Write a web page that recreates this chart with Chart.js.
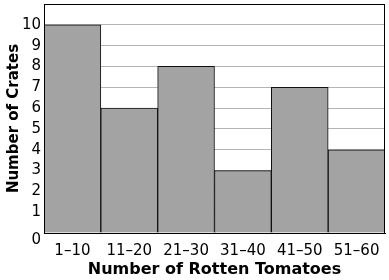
<!DOCTYPE html>
<html><head><meta charset="utf-8">
<script src="https://cdn.jsdelivr.net/npm/chart.js@4"></script>
<style>html,body{margin:0;padding:0;background:#fff}#w{width:389px;height:280px;position:relative}</style>
</head><body><div id="w"><canvas id="c"></canvas></div>
<script>
const categories = ['1–10', '11–20', '21–30', '31–40', '41–50', '51–60'];
const crates = [10, 6, 8, 3, 7, 4];
const yMin = 0;
const yMax = 11;
const yStep = 1;
const xTitle = 'Number of Rotten Tomatoes';
const yTitle = 'Number of Crates';

const FONT = 'DejaVu Sans, Verdana, sans-serif';

const frame = {
  id: 'frame',
  afterDraw(chart) {
    const {ctx, chartArea: a} = chart;
    ctx.save();
    ctx.strokeStyle = '#000';
    ctx.lineWidth = 1;
    ctx.strokeRect(Math.round(a.left) + 0.5, Math.round(a.top) + 0.5, Math.round(a.right - a.left) - 1, Math.round(a.bottom - a.top));
    ctx.restore();
  }
};

new Chart(document.getElementById('c'), {
  type: 'bar',
  data: {
    labels: categories,
    datasets: [{
      data: crates,
      backgroundColor: '#a3a3a3',
      borderColor: '#111',
      borderWidth: 1,
      barPercentage: 1,
      categoryPercentage: 1
    }]
  },
  options: {
    responsive: true,
    maintainAspectRatio: false,
    animation: false,
    devicePixelRatio: 1,
    layout: {padding: {top: 4, right: 4, left: 0, bottom: 0}},
    plugins: {legend: {display: false}, tooltip: {enabled: false}},
    scales: {
      x: {
        grid: {display: false},
        border: {display: true, color: '#000', width: 1},
        ticks: {color: '#000', font: {family: FONT, size: 15}, padding: 1, maxRotation: 0, autoSkip: false},
        title: {display: true, text: xTitle, color: '#000', font: {family: FONT, size: 16, weight: 'bold'}, padding: {top: 4, bottom: 1}},
        afterFit(s) { s.height = 47; }
      },
      y: {
        min: yMin, max: yMax,
        grid: {color: '#b4b4b4', lineWidth: 1, drawTicks: false},
        border: {display: true, color: '#000', width: 1},
        ticks: {
          stepSize: yStep, color: '#000', padding: 3, autoSkip: false,
          font: {family: FONT, size: 15, lineHeight: 1},
          callback: v => v === yMax ? null : (v === 0 ? ['', '0'] : String(v))
        },
        title: {display: true, text: yTitle, color: '#000', font: {family: FONT, size: 15, weight: 'bold'}, padding: {top: 5, bottom: 2}},
        afterFit(s) { s.width = 44; s.paddingTop = 0; s.paddingBottom = 0; }
      }
    }
  },
  plugins: [frame]
});
</script>
</body></html>
